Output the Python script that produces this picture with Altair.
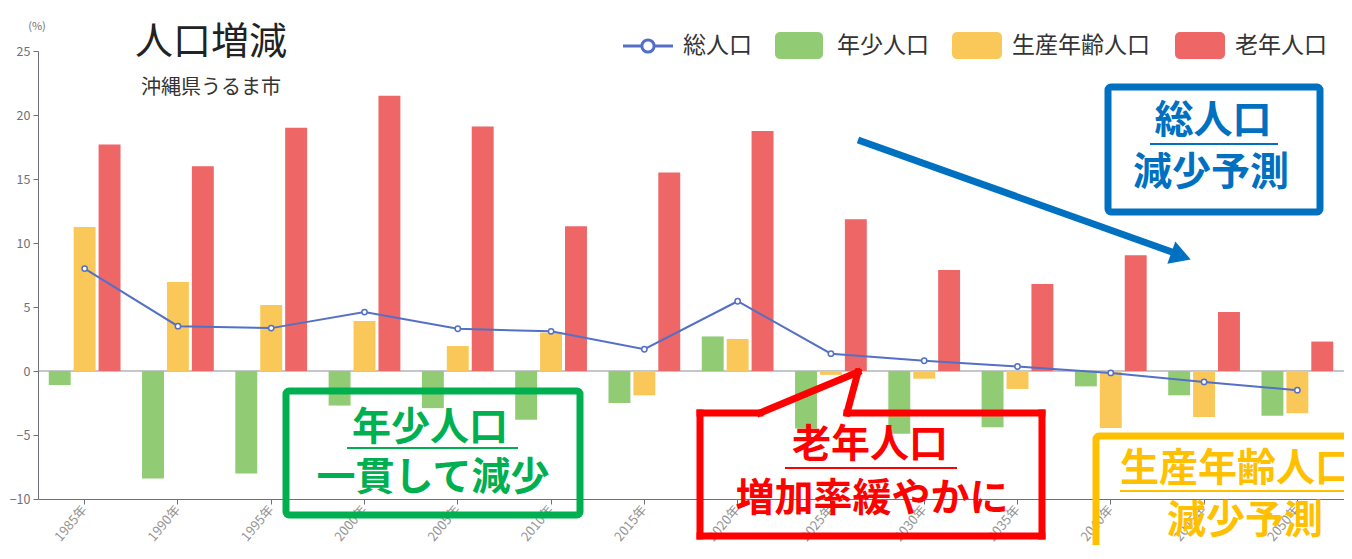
import altair as alt
import pandas as pd

FONT = "Noto Sans CJK JP"

years = ["1985年", "1990年", "1995年", "2000年", "2005年", "2010年", "2015年",
         "2020年", "2025年", "2030年", "2035年", "2040年", "2045年", "2050年"]
series = ["年少人口", "生産年齢人口", "老年人口"]
bar_colors = ["#91cc75", "#fac858", "#ee6666"]
line_color = "#5470c6"

total = [8.0, 3.5, 3.35, 4.6, 3.3, 3.1, 1.7, 5.45, 1.35, 0.8, 0.35, -0.15, -0.85, -1.5]
young = [-1.1, -8.4, -8.0, -2.7, -2.9, -3.8, -2.5, 2.7, -4.5, -4.9, -4.4, -1.2, -1.9, -3.5]
working = [11.25, 6.95, 5.15, 3.9, 1.95, 3.0, -1.9, 2.5, -0.3, -0.6, -1.4, -4.45, -3.6, -3.3]
elderly = [17.7, 16.0, 19.0, 21.5, 19.1, 11.3, 15.5, 18.75, 11.85, 7.9, 6.8, 9.05, 4.6, 2.3]
y_ticks = [-10, -5, 0, 5, 10, 15, 20, 25]

rows = []
for i, yr in enumerate(years):
    for s, vals in zip(series, [young, working, elderly]):
        rows.append({"year": yr, "series": s, "value": vals[i]})
df_bars = pd.DataFrame(rows)
df_total = pd.DataFrame({"year": years, "value": total})

# plot-area origin in page pixels
OX, OY = 38, 51
W, H = 1306, 448


def one():
    return alt.Data(values=[{"k": 1}])


def vtext(txt, x, y, size, color, weight="normal", align="center"):
    return alt.Chart(one()).mark_text(
        text=txt, fontSize=size, color=color, font=FONT, fontWeight=weight,
        align=align, baseline="middle"
    ).encode(x=alt.value(x - OX), y=alt.value(y - OY))


def seg(x1, y1, x2, y2, color, w, cap="square"):
    return alt.Chart(one()).mark_rule(color=color, strokeWidth=w, strokeCap=cap).encode(
        x=alt.value(x1 - OX), y=alt.value(y1 - OY),
        x2=alt.value(x2 - OX), y2=alt.value(y2 - OY))


def box(x1, y1, x2, y2, color, w, r=3, filled=False):
    if filled:
        m = alt.Chart(one()).mark_rect(color=color, cornerRadius=r)
    else:
        m = alt.Chart(one()).mark_rect(fill="#ffffff", fillOpacity=0, stroke=color,
                                       strokeWidth=w, cornerRadius=r)
    return m.encode(x=alt.value(x1 - OX), y=alt.value(y1 - OY),
                    x2=alt.value(x2 - OX), y2=alt.value(y2 - OY))


xscale = alt.Scale(paddingInner=0, paddingOuter=0)
yscale = alt.Scale(domain=[-10, 25], nice=False)

zero = alt.Chart(one()).mark_rule(color="#8a8d94", strokeWidth=1).encode(y=alt.datum(0, scale=yscale))

bars = alt.Chart(df_bars).mark_bar().encode(
    x=alt.X("year:N", sort=years, scale=xscale, title=None,
            axis=alt.Axis(labelAngle=-50, labelAlign="right", labelBaseline="middle",
                          labelColor="#949494", labelFontSize=13, labelPadding=3,
                          tickColor="#6e7079", domainColor="#6e7079", tickSize=5)),
    xOffset=alt.XOffset("series:N", sort=series,
                        scale=alt.Scale(paddingInner=0.12, paddingOuter=0.432)),
    y=alt.Y("value:Q", scale=yscale, title=None,
            axis=alt.Axis(values=y_ticks, grid=False, labelColor="#6e7079", labelFontSize=12.5,
                          tickColor="#6e7079", domainColor="#6e7079", tickSize=5, labelPadding=3)),
    color=alt.Color("series:N", scale=alt.Scale(domain=series, range=bar_colors), legend=None),
)

line = alt.Chart(df_total).mark_line(color=line_color, strokeWidth=2).encode(
    x=alt.X("year:N", sort=years, bandPosition=0.5),
    y=alt.Y("value:Q"),
)
points = alt.Chart(df_total).mark_point(filled=True, fill="#ffffff", stroke=line_color,
                                        strokeWidth=1.5, size=28, opacity=1).encode(
    x=alt.X("year:N", sort=years, bandPosition=0.5),
    y=alt.Y("value:Q"),
)

layers = [zero, bars, line, points]

# title, subtitle, unit
layers += [
    vtext("人口増減", 211, 43, 38, "#222222"),
    vtext("沖縄県うるま市", 211, 88, 20, "#333333"),
    vtext("(%)", 37, 27, 11, "#6e7079"),
]

# legend
layers += [
    seg(623, 46, 673, 46, line_color, 3, cap="butt"),
    alt.Chart(one()).mark_point(filled=True, fill="#ffffff", stroke=line_color, strokeWidth=3,
                                size=150, opacity=1).encode(x=alt.value(648 - OX), y=alt.value(46 - OY)),
    vtext("総人口", 683, 46, 23, "#333333", align="left"),
    box(775, 32, 823, 59, bar_colors[0], 0, r=5, filled=True),
    vtext("年少人口", 837, 46, 23, "#333333", align="left"),
    box(952, 32, 1002, 59, bar_colors[1], 0, r=5, filled=True),
    vtext("生産年齢人口", 1012, 46, 23, "#333333", align="left"),
    box(1175, 32, 1225, 59, bar_colors[2], 0, r=5, filled=True),
    vtext("老年人口", 1235, 46, 23, "#333333", align="left"),
]

# blue annotation: total population
BLUE = "#0070c0"
layers += [
    box(1108, 87, 1320, 212, BLUE, 7),
    vtext("総人口", 1213, 121, 39, BLUE, weight="bold"),
    seg(1150, 144, 1278, 144, BLUE, 2, cap="butt"),
    vtext("減少予測", 1211, 173, 39, BLUE, weight="bold"),
    seg(858, 140, 1172, 252, BLUE, 7, cap="butt"),
    alt.Chart(one()).mark_point(shape="triangle-right", filled=True, color=BLUE, size=560,
                                angle=19.6, opacity=1).encode(
        x=alt.value(1181 - OX), y=alt.value(256 - OY)),
]

# green annotation: young population
GREEN = "#00b050"
layers += [
    box(286, 391, 580, 515, GREEN, 7),
    vtext("年少人口", 430, 428, 39, GREEN, weight="bold"),
    seg(347, 448, 518, 448, GREEN, 2, cap="butt"),
    vtext("一貫して減少", 433, 478, 39, GREEN, weight="bold"),
]

# red callout: elderly population
RED = "#ff0000"
layers += [
    seg(700, 413, 760, 413, RED, 7),
    seg(760, 413, 858, 372, RED, 7),
    seg(858, 372, 847, 413, RED, 7),
    seg(847, 413, 1042, 413, RED, 7),
    seg(1042, 413, 1042, 536, RED, 7),
    seg(1042, 536, 700, 536, RED, 7),
    seg(700, 536, 700, 413, RED, 7),
    vtext("老年人口", 870, 445, 39, RED, weight="bold"),
    seg(785, 468, 957, 468, RED, 2, cap="butt"),
    vtext("増加率緩やかに", 872, 499, 39, RED, weight="bold"),
]

# yellow annotation: working-age population
YELLOW = "#ffc000"
layers += [
    box(1096, 436, 1420, 556, YELLOW, 7),
    vtext("生産年齢人口", 1120, 469, 39, YELLOW, weight="bold", align="left"),
    seg(1120, 491, 1360, 491, YELLOW, 2, cap="butt"),
    vtext("減少予測", 1245, 521, 39, YELLOW, weight="bold"),
]

chart = alt.layer(*layers).properties(
    width=W, height=H,
    autosize=alt.AutoSizeParams(type="none"),
    padding={"left": 30, "top": 43, "right": 0, "bottom": 46},
).configure_view(stroke=None).configure_axis(labelFont=FONT, titleFont=FONT)

chart.save("out.html", embed_options={"renderer": "svg", "actions": False})
